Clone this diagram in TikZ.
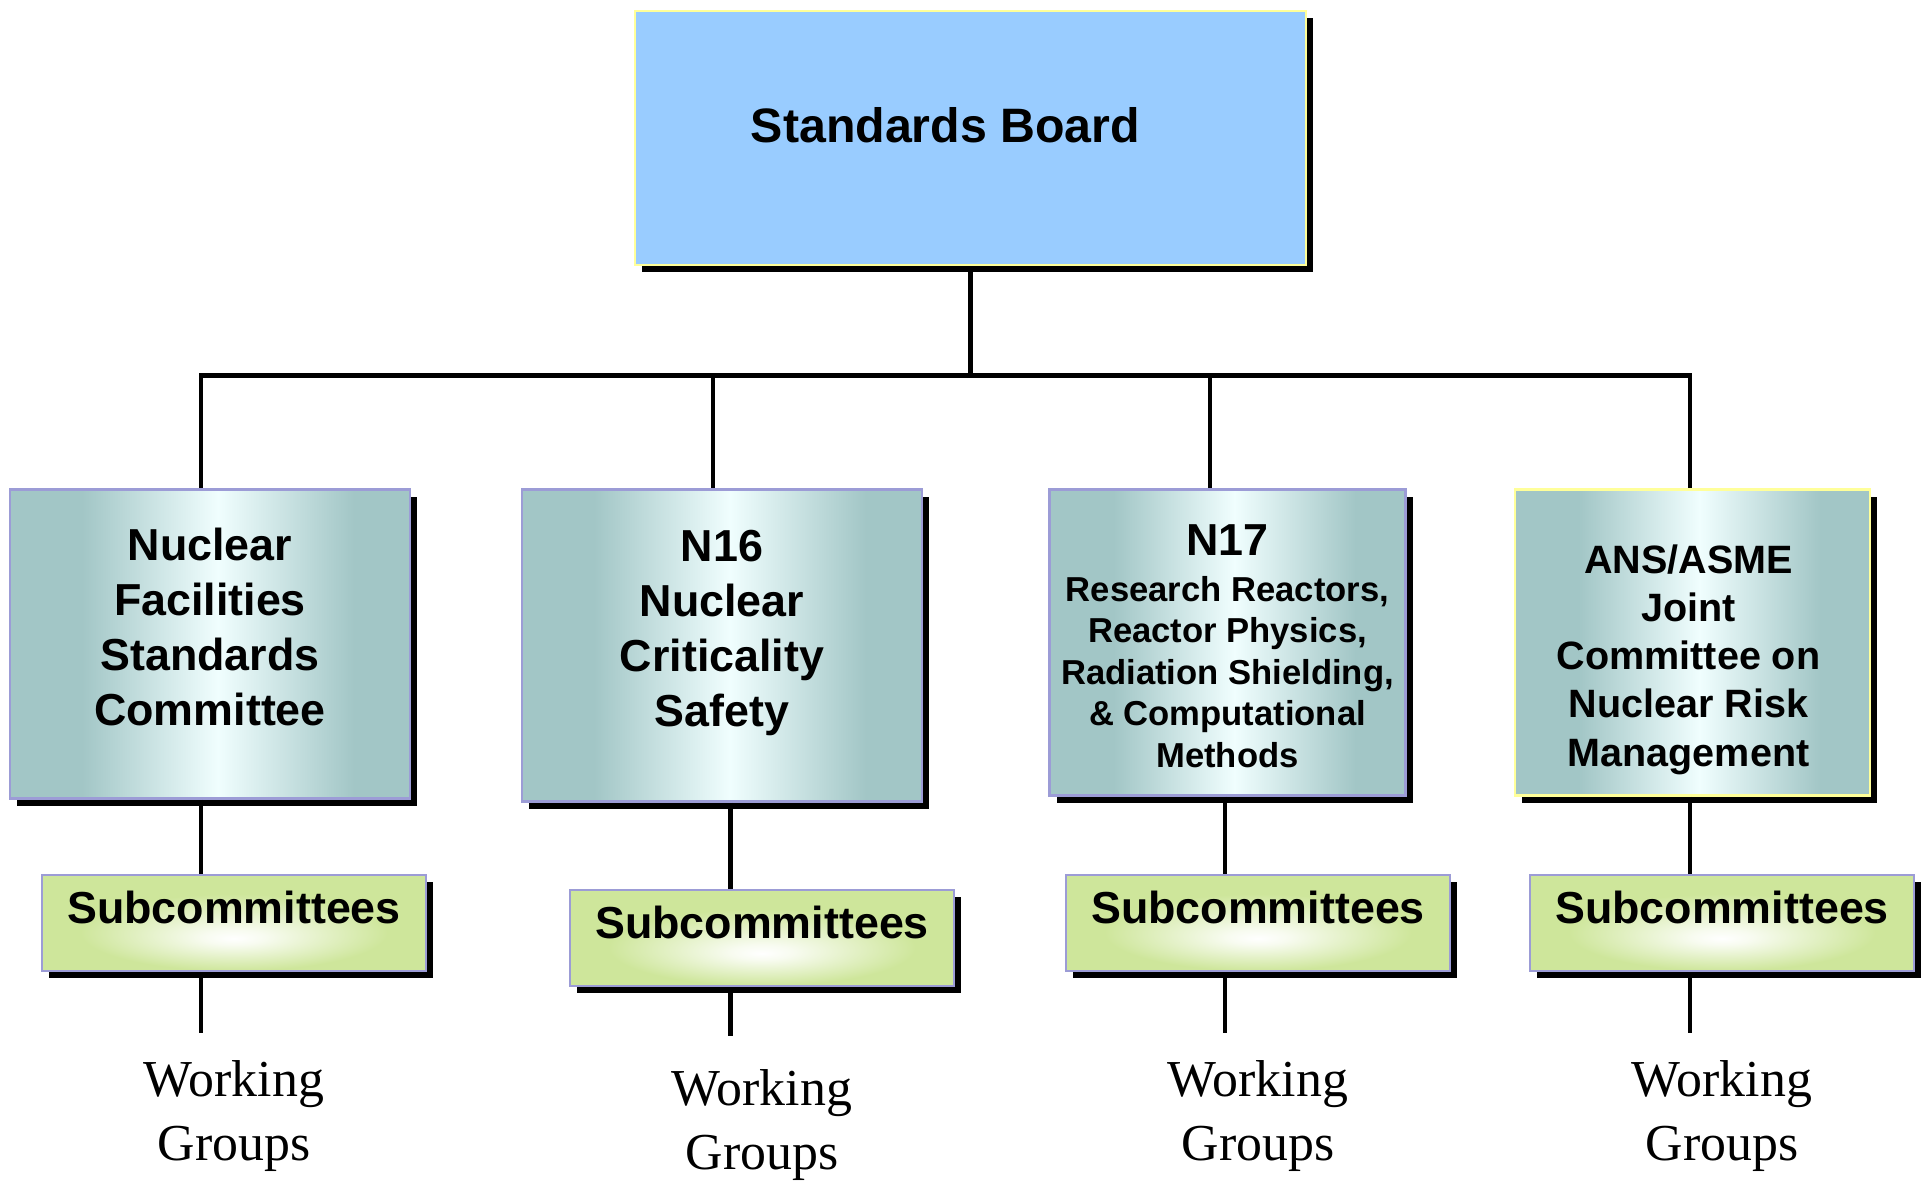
\documentclass[tikz,border=0pt]{standalone}
\usepackage{fontspec}
\setmainfont{Liberation Serif}
\setsansfont{Liberation Sans}
\usetikzlibrary{positioning,calc,shadows}

\definecolor{boardblue}{HTML}{99CCFF}
\definecolor{paleyellow}{HTML}{FFFF99}
\definecolor{panelteal}{HTML}{A2C6C6}
\definecolor{panelglow}{HTML}{F0FEFE}
\definecolor{lavender}{HTML}{9C9CD6}
\definecolor{subgreen}{HTML}{CEE69B}

% Shadings: bright band down the middle of a panel, glow under the subcommittee label
\pgfdeclarehorizontalshading{panelshade}{100bp}{color(0bp)=(panelteal); color(34bp)=(panelteal); color(51bp)=(panelglow); color(68bp)=(panelteal); color(100bp)=(panelteal)}
\pgfdeclareradialshading{subshade}{\pgfpoint{0bp}{-8bp}}{color(0bp)=(white); color(4bp)=(white!85!subgreen); color(20bp)=(subgreen); color(50bp)=(subgreen)}

\begin{document}
\begin{tikzpicture}[
		link/.style={line width=2.7pt},
		boxshadow/.style={drop shadow={shadow xshift=0.14cm, shadow yshift=-0.14cm, fill=black, opacity=1}},
		boardbox/.style={draw=paleyellow, line width=1.4pt, fill=boardblue, anchor=north, inner sep=0pt, boxshadow, minimum width=13.42cm, minimum height=5.08cm},
		panel/.style={draw=lavender, line width=1.3pt, shading=panelshade, anchor=north, inner sep=0pt, boxshadow},
		subbox/.style={draw=lavender, line width=1.3pt, shading=subshade, anchor=north, inner sep=0pt, boxshadow, minimum width=7.68cm, minimum height=1.92cm},
		boxtext/.style={font=\sffamily\bfseries\fontsize{25.5}{31.2}\selectfont, align=center, inner sep=0pt},
		wg/.style={font=\rmfamily\fontsize{29.5}{36.3}\selectfont, align=center, inner sep=0pt}
	]
		  \fill[white, use as bounding box] (0,0) rectangle (38.5,23.64);
		
		  % Board
		  \node[boardbox, label={[boxtext, font=\sffamily\bfseries\fontsize{27.5}{33}\selectfont, xshift=-0.5cm, yshift=0.26cm]center:Standards Board}] (board) at (19.41,23.44) {};
		
		  % Committees
		  \node[panel, minimum width=8cm, minimum height=6.18cm, label={[boxtext, yshift=0.34cm]center:{Nuclear\\Facilities\\Standards\\Committee}}] (nfsc) at (4.20,13.87) {};
		  \node[panel, minimum width=8cm, minimum height=6.24cm, label={[boxtext, yshift=0.25cm]center:{N16\\Nuclear\\Criticality\\Safety}}] (ncs) at (14.44,13.87) {};
		  \node[panel, minimum width=7.12cm, minimum height=6.12cm, label={[boxtext, font=\sffamily\bfseries\fontsize{19.7}{23.6}\selectfont, yshift=-0.07cm]center:{{\fontsize{25.5}{30}\selectfont N17}\\[2.3pt]Research Reactors,\\Reactor Physics,\\Radiation Shielding,\\\& Computational\\Methods}}] (nrr) at (24.55,13.87) {};
		  \node[panel, draw=paleyellow, minimum width=7.10cm, minimum height=6.12cm, label={[boxtext, font=\sffamily\bfseries\fontsize{22.5}{27.4}\selectfont, xshift=-0.08cm, yshift=-0.34cm]center:{ANS/ASME\\Joint\\Committee on\\Nuclear Risk\\Management}}] (ans) at (33.85,13.87) {};
		
		  % Subcommittees
		  \node[subbox, label={[boxtext, yshift=0.32cm]center:Subcommittees}] (sub1) at (4.68,6.16) {};
		  \node[subbox, label={[boxtext, yshift=0.32cm]center:Subcommittees}] (sub2) at (15.24,5.86) {};
		  \node[subbox, label={[boxtext, yshift=0.32cm]center:Subcommittees}] (sub3) at (25.16,6.16) {};
		  \node[subbox, label={[boxtext, yshift=0.32cm]center:Subcommittees}] (sub4) at (34.44,6.16) {};
		
		  % Working groups
		  \node[wg, below=1.76cm of sub1] (wg1) {Working\\Groups};
		  \node[wg, below=1.64cm of sub2] (wg2) {Working\\Groups};
		  \node[wg, below=1.76cm of sub3] (wg3) {Working\\Groups};
		  \node[wg, below=1.76cm of sub4] (wg4) {Working\\Groups};
		
		  % Board down to the bus, bus out to the committees
		  \coordinate (bus) at (0,16.13);
		  \draw[link] (board.south) -- (board.south |- bus);
		  \draw[link, line cap=rect] ($(nfsc.north |- bus)+(-0.18,0)$) -- ($(ans.north |- bus)+(-0.05,0)$);
		  \draw[link] ($(nfsc.north |- bus)+(-0.18,0)$) -- ($(nfsc.north)+(-0.18,0)$);
		  \draw[link] ($(ncs.north |- bus)+(-0.18,0)$) -- ($(ncs.north)+(-0.18,0)$);
		  \draw[link] ($(nrr.north |- bus)+(-0.35,0)$) -- ($(nrr.north)+(-0.35,0)$);
		  \draw[link] ($(ans.north |- bus)+(-0.05,0)$) -- ($(ans.north)+(-0.05,0)$);
		
		  % Committee -> subcommittees -> working groups
		  \coordinate (tap1) at ($(sub1.north)+(-0.66,0)$);
		  \coordinate (tap2) at ($(sub2.north)+(-0.63,0)$);
		  \coordinate (tap3) at ($(sub3.north)+(-0.66,0)$);
		  \coordinate (tap4) at ($(sub4.north)+(-0.64,0)$);
		  \draw[link] (tap1 |- nfsc.south) -- (tap1);
		  \draw[link] (tap2 |- ncs.south) -- (tap2);
		  \draw[link] (tap3 |- nrr.south) -- (tap3);
		  \draw[link] (tap4 |- ans.south) -- (tap4);
		  \draw[link] (tap1 |- sub1.south) -- ($(tap1 |- wg1.north)+(0,0.54)$);
		  \draw[link] (tap2 |- sub2.south) -- ($(tap2 |- wg2.north)+(0,0.66)$);
		  \draw[link] (tap3 |- sub3.south) -- ($(tap3 |- wg3.north)+(0,0.54)$);
		  \draw[link] (tap4 |- sub4.south) -- ($(tap4 |- wg4.north)+(0,0.54)$);
		\end{tikzpicture}
\end{document}
